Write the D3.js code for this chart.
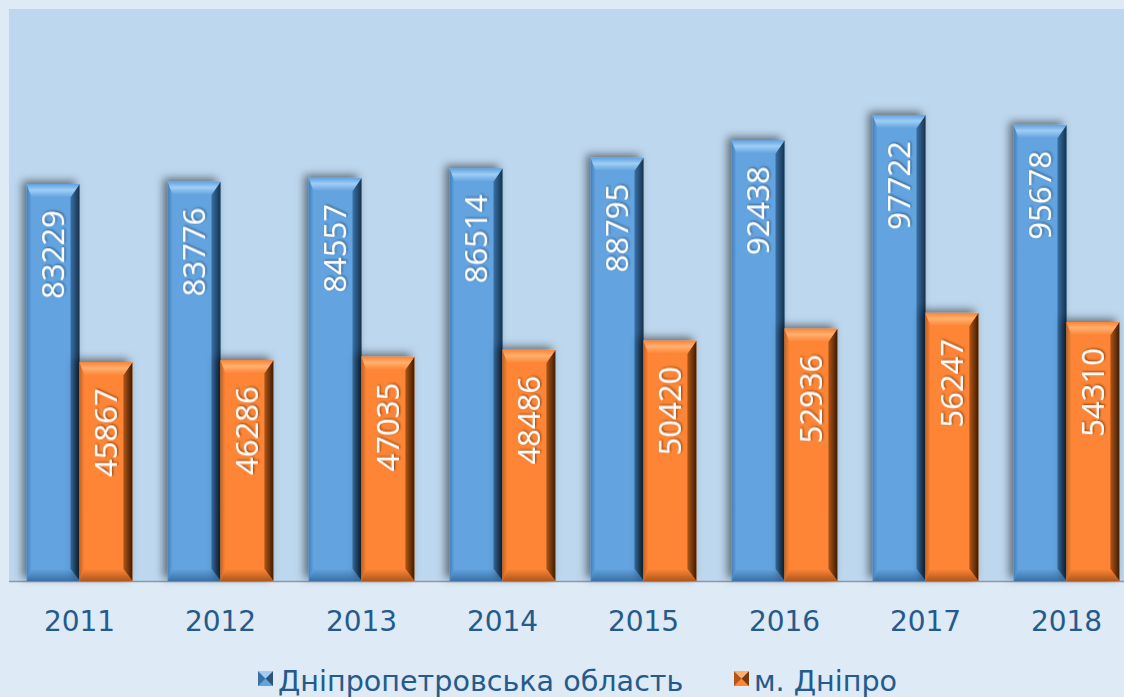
<!DOCTYPE html>
<html>
<head>
<meta charset="utf-8">
<script src="https://cdn.jsdelivr.net/npm/d3@7"></script>
<style>
  body { margin: 0; background: #deeaf6; }
  svg { display: block; }
</style>
</head>
<body>
<div id="chart"></div>
<script>
// DATA
var years = ["2011", "2012", "2013", "2014", "2015", "2016", "2017", "2018"]
var oblast = [83229, 83776, 84557, 86514, 88795, 92438, 97722, 95678]
var city = [45867, 46286, 47035, 48486, 50420, 52936, 56247, 54310]
var seriesNames = ["Дніпропетровська область", "м. Дніпро"]

var svgWidth = 1124
var svgHeight = 697

var plot = { left: 9, top: 9, right: 1124, bottom: 581 }

var svg = d3.select("#chart").append("svg")
    .attr("width", svgWidth)
    .attr("height", svgHeight)

var defs = svg.append("defs")

// drop shadow for bars
var shadow = defs.append("filter").attr("id", "shadow")
    .attr("x", "-30%").attr("y", "-10%").attr("width", "160%").attr("height", "120%")
shadow.append("feDropShadow")
    .attr("dx", -4).attr("dy", -3).attr("stdDeviation", 4)
    .attr("flood-color", "#000").attr("flood-opacity", 0.5)

var textShadow = defs.append("filter").attr("id", "tshadow")
textShadow.append("feDropShadow")
    .attr("dx", 1).attr("dy", 1).attr("stdDeviation", 1)
    .attr("flood-color", "#000").attr("flood-opacity", 0.5)

var colors = [
    { face: "#62a3e0", light: "#9fcdf5", dark: "#17324d", mid: "#3a70a6" },
    { face: "#fd8535", light: "#ffb070", dark: "#3f1b00", mid: "#b0561a" }
]

colors.forEach(function(c, i) {
    var g = defs.append("linearGradient").attr("id", "right" + i)
        .attr("x1", 0).attr("x2", 1).attr("y1", 0).attr("y2", 0)
    g.append("stop").attr("offset", "0%").attr("stop-color", c.mid)
    g.append("stop").attr("offset", "100%").attr("stop-color", c.dark)
    var t = defs.append("linearGradient").attr("id", "top" + i)
        .attr("x1", 0).attr("x2", 0).attr("y1", 0).attr("y2", 1)
    t.append("stop").attr("offset", "0%").attr("stop-color", c.face)
    t.append("stop").attr("offset", "45%").attr("stop-color", c.light)
    t.append("stop").attr("offset", "100%").attr("stop-color", c.face)
    var b = defs.append("linearGradient").attr("id", "bot" + i)
        .attr("x1", 0).attr("x2", 0).attr("y1", 0).attr("y2", 1)
    b.append("stop").attr("offset", "0%").attr("stop-color", c.face)
    b.append("stop").attr("offset", "100%").attr("stop-color", c.mid)
    var l = defs.append("linearGradient").attr("id", "left" + i)
        .attr("x1", 0).attr("x2", 1).attr("y1", 0).attr("y2", 0)
    l.append("stop").attr("offset", "0%").attr("stop-color", c.mid)
    l.append("stop").attr("offset", "100%").attr("stop-color", c.face)
})

// plot area
svg.append("rect")
    .attr("x", plot.left).attr("y", plot.top)
    .attr("width", plot.right - plot.left).attr("height", plot.bottom - plot.top)
    .attr("fill", "#bdd7ee")

var x0 = d3.scaleBand().domain(years).range([9, 1137]).paddingInner(0.25).paddingOuter(0.125)
var x1 = d3.scaleBand().domain([0, 1]).range([0, x0.bandwidth()])
var y = d3.scaleLinear().domain([0, 120000]).range([plot.bottom, plot.top])

var rows = []
years.forEach(function(yr, i) {
    rows.push({ year: yr, s: 0, v: oblast[i] })
    rows.push({ year: yr, s: 1, v: city[i] })
})

// baseline
svg.append("line")
    .attr("x1", plot.left).attr("x2", plot.right)
    .attr("y1", plot.bottom + 0.5).attr("y2", plot.bottom + 0.5)
    .attr("stroke", "#8c9aa8").attr("stroke-width", 1.5)

var bars = svg.selectAll("g.bar")
    .data(rows)
    .enter()
    .append("g")
    .attr("class", "bar")
    .attr("filter", "url(#shadow)")

function drawBar(sel) {
    sel.each(function(d) {
        var g = d3.select(this)
        var xl = x0(d.year) + x1(d.s)
        var w = x1.bandwidth()
        var yt = y(d.v)
        var yb = y(0)
        var bt = 13, br = 9, bb = 12, bl = 5
        g.append("rect").attr("x", xl).attr("y", yt).attr("width", w).attr("height", yb - yt)
            .attr("fill", colors[d.s].face)
        g.append("polygon").attr("fill", "url(#left" + d.s + ")").attr("opacity", 0.7)
            .attr("points", [[xl, yt], [xl + bl, yt + bt], [xl + bl, yb - bb], [xl, yb]].join(" "))
        g.append("polygon").attr("fill", "url(#right" + d.s + ")")
            .attr("points", [[xl + w, yt], [xl + w, yb], [xl + w - br, yb - bb], [xl + w - br, yt + bt]].join(" "))
        g.append("polygon").attr("fill", "url(#top" + d.s + ")")
            .attr("points", [[xl, yt], [xl + w, yt], [xl + w - br, yt + bt], [xl + bl, yt + bt]].join(" "))
        g.append("polygon").attr("fill", "url(#bot" + d.s + ")")
            .attr("points", [[xl, yb], [xl + bl, yb - bb], [xl + w - br, yb - bb], [xl + w, yb]].join(" "))
    })
}
bars.call(drawBar)

// value labels
svg.selectAll("text.val")
    .data(rows)
    .enter()
    .append("text")
    .attr("class", "val")
    .attr("transform", d => `translate(${x0(d.year) + x1(d.s) + x1.bandwidth() / 2 + 11}, ${y(d.v) + 26}) rotate(-90)`)
    .attr("text-anchor", "end")
    .attr("fill", "#fff")
    .attr("filter", "url(#tshadow)")
    .style("font-family", "'Open Sans', sans-serif")
    .style("font-size", "31px")
    .text(d => d.v)

// x axis labels
var xAxis = d3.axisBottom(x0).tickSize(0).tickPadding(30)
var axisG = svg.append("g")
    .attr("transform", `translate(0,${plot.bottom})`)
    .call(xAxis)
axisG.select(".domain").remove()
axisG.selectAll("text")
    .attr("fill", "#245a8c")
    .style("font-family", "'DejaVu Sans', Verdana, sans-serif")
    .style("font-size", "28px")

// legend
var legendX = [258, 734]
var legend = svg.selectAll("g.legend")
    .data(seriesNames)
    .enter()
    .append("g")
    .attr("class", "legend")
    .attr("transform", (d, i) => `translate(${legendX[i]}, 671)`)

legend.each(function(d, i) {
    var g = d3.select(this)
    var s = 15
    g.append("rect").attr("width", s).attr("height", s).attr("fill", colors[i].face)
    g.append("polygon").attr("fill", colors[i].mid)
        .attr("points", [[0, 0], [s / 2, s / 2], [0, s]].join(" "))
    g.append("polygon").attr("fill", colors[i].dark).attr("opacity", 0.7)
        .attr("points", [[s, 0], [s / 2, s / 2], [s, s]].join(" "))
    g.append("polygon").attr("fill", colors[i].light)
        .attr("points", [[0, 0], [s, 0], [s / 2, s / 2]].join(" "))
    g.append("text")
        .attr("x", s + 5)
        .attr("y", 20)
        .attr("fill", "#245a8c")
        .style("font-family", "'DejaVu Sans', Verdana, sans-serif")
        .style("font-size", "28.6px")
        .text(d)
})
</script>
</body>
</html>
